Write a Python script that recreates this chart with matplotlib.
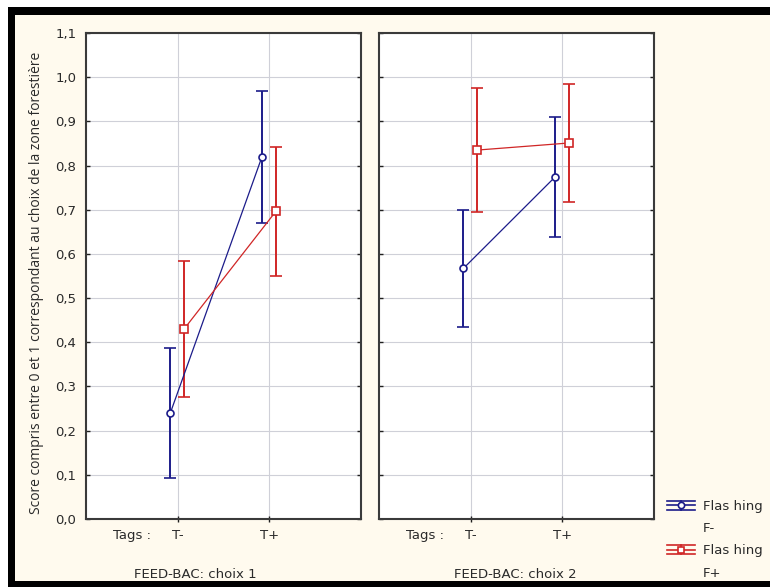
import numpy as np
import matplotlib
matplotlib.use("Agg")
import matplotlib.pyplot as plt
from matplotlib.patches import Rectangle
from matplotlib.lines import Line2D
from matplotlib.legend_handler import HandlerBase

# Data
tags = ["T-", "T+"]
panels = ["FEED-BAC: choix 1", "FEED-BAC: choix 2"]
series_labels = ["Flas hing", "Flas hing"]
series_sub = ["F-", "F+"]

choix1_fminus = [0.240, 0.820]
choix1_fminus_err = [0.147, 0.149]
choix1_fplus = [0.430, 0.696]
choix1_fplus_err = [0.154, 0.147]

choix2_fminus = [0.567, 0.774]
choix2_fminus_err = [0.133, 0.135]
choix2_fplus = [0.835, 0.851]
choix2_fplus_err = [0.140, 0.134]

yticks = np.round(np.arange(0, 1.11, 0.1), 1)
ytick_labels = [("%.1f" % v).replace(".", ",") for v in yticks]

BLUE = "#1c1c8a"
RED = "#d02626"
CREAM = "#fffaee"
TXT = "#2a2a2a"


class HandlerBars(HandlerBase):
    # legend key: three horizontal bars, a short vertical stem and the marker
    def __init__(self, color, marker):
        super().__init__()
        self.color = color
        self.marker = marker

    def create_artists(self, legend, orig_handle, xdescent, ydescent,
                       width, height, fontsize, trans):
        cy = height / 2 - ydescent
        dy = height * 0.5
        x0, x1 = -xdescent, width - xdescent
        xm = (x0 + x1) / 2
        arts = []
        for d in (-dy, 0, dy):
            arts.append(Line2D([x0, x1], [cy + d, cy + d], color=self.color, lw=1.2))
        arts.append(Line2D([xm, xm], [cy - dy, cy + dy], color=self.color, lw=1.2))
        arts.append(Line2D([xm], [cy], color=self.color, marker=self.marker,
                           markersize=4.5, mfc="white", mew=1.2))
        for a in arts:
            a.set_transform(trans)
        return arts


W, H = 770, 587
fig = plt.figure(figsize=(W / 100, H / 100), dpi=100, facecolor="white")

# black frame + cream background
fig.patches.append(Rectangle((8 / W, 0), 1.0, 1 - 7 / H, transform=fig.transFigure,
                             facecolor="black", edgecolor="none", zorder=-10))
fig.patches.append(Rectangle((15 / W, 6 / H), 1.0, 1 - 15 / H - 6 / H,
                             transform=fig.transFigure, facecolor=CREAM,
                             edgecolor="none", zorder=-9))

tick_font = {"family": "DejaVu Sans", "size": 9.5, "color": TXT}

series = [
    [(choix1_fminus, choix1_fminus_err), (choix1_fplus, choix1_fplus_err)],
    [(choix2_fminus, choix2_fminus_err), (choix2_fplus, choix2_fplus_err)],
]
lefts = [86, 379]
handles = []
for p, left in enumerate(lefts):
    ax = fig.add_axes([left / W, (H - 519) / H, 275 / W, 486 / H])
    ax.set_facecolor("white")
    x = np.arange(len(tags))
    for s, (color, marker, off) in enumerate([(BLUE, "o", -0.08), (RED, "s", 0.07)]):
        vals, errs = series[p][s]
        h = ax.errorbar(x + off, vals, yerr=errs, color=color, marker=marker,
                        markersize=5 if marker == "o" else 5.5, mfc="white", mew=1.2,
                        lw=0.9, elinewidth=1.4, capsize=4, capthick=1.4, zorder=3)
        if p == 0:
            handles.append(h)
    ax.set_xlim(-1, 2)
    ax.set_ylim(0, 1.1)
    ax.set_yticks(yticks)
    ax.set_xticks(x)
    ax.set_xticklabels(tags, fontdict=tick_font)
    if p == 0:
        ax.set_yticklabels(ytick_labels, fontdict=tick_font)
    else:
        ax.set_yticklabels([])
    ax.tick_params(axis="y", direction="in", length=3, width=1, left=True, right=True,
                   pad=7, color="#202020")
    ax.tick_params(axis="x", direction="inout", length=5, width=1, pad=5, color="#202020")
    ax.grid(True, color="#cfd0d8", lw=0.8)
    ax.set_axisbelow(True)
    for sp in ax.spines.values():
        sp.set_color("#3a3a3a")
        sp.set_linewidth(1.5)
    ax.text(-0.5, -(536 - 519) / 486, "Tags :", transform=ax.get_xaxis_transform(),
            ha="center", va="center", **tick_font)
    ax.text([0.19, 0.49][p], -(575 - 519) / 486, panels[p],
            transform=ax.get_xaxis_transform(), ha="center", va="center", **tick_font)

fig.text(37 / W, (H - 283) / H,
         "Score compris entre 0 et 1 correspondant au choix de la zone forestière",
         rotation=90, ha="center", va="center", family="Open Sans", size=10, color=TXT)

blank = Line2D([], [], linestyle="none")
leg = fig.legend([handles[0], blank, handles[1], blank],
                 [series_labels[0], series_sub[0], series_labels[1], series_sub[1]],
                 handler_map={handles[0]: HandlerBars(BLUE, "o"),
                              handles[1]: HandlerBars(RED, "s")},
                 loc="upper left", bbox_to_anchor=(667 / W, (H - 500) / H),
                 frameon=False, prop={"family": "DejaVu Sans", "size": 9.5},
                 handlelength=2.1, handletextpad=0.6, labelspacing=0.7,
                 borderpad=0, borderaxespad=0)
for t in leg.get_texts():
    t.set_color(TXT)

fig.savefig("out.png", dpi=100, facecolor="white")
